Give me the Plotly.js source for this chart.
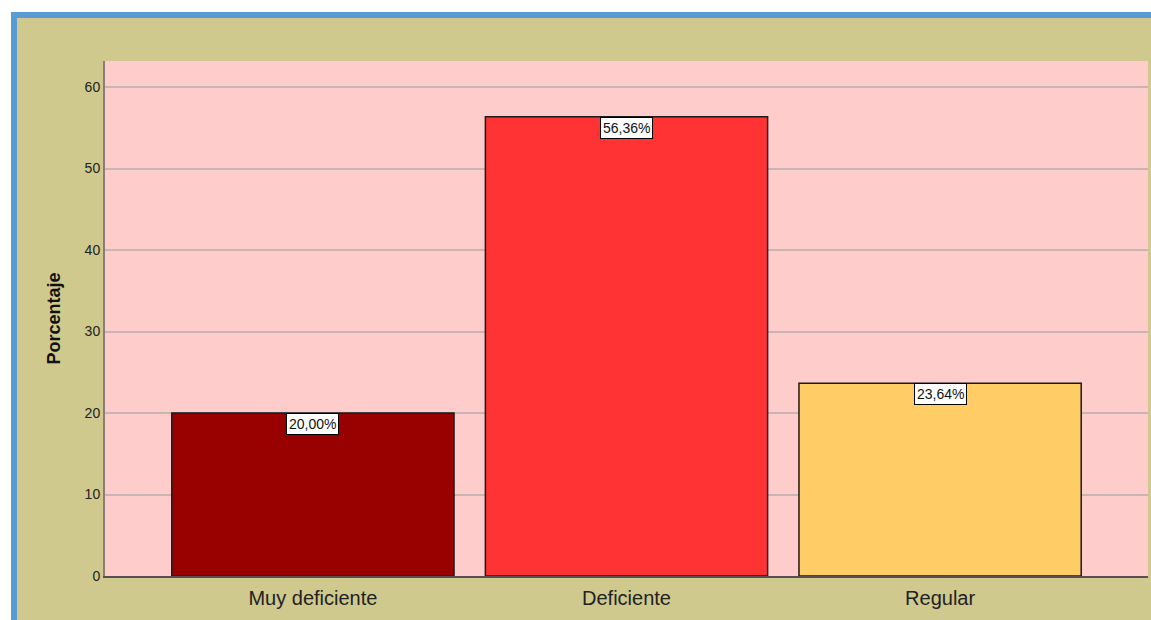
<!DOCTYPE html>
<html>
<head>
<meta charset="utf-8">
<script src="https://cdn.plot.ly/plotly-3.0.1.min.js"></script>
<style>
html,body{margin:0;padding:0;background:#ffffff;overflow:hidden;}
#frame{position:absolute;left:11px;top:12px;width:1140px;height:608px;background:#5b9bd5;}
#chart{position:absolute;left:6px;top:6px;width:1134px;height:602px;}
</style>
</head>
<body>
<div id="frame"><div id="chart"></div></div>
<script>
const categories = ["Muy deficiente", "Deficiente", "Regular"];
const values = [20.00, 56.36, 23.64];
const valueLabels = ["20,00%", "56,36%", "23,64%"];
const barColors = ["#990000", "#ff3333", "#ffcc66"];
const yTicks = [0, 10, 20, 30, 40, 50, 60];

const trace = {
  type: "bar",
  x: categories,
  y: values,
  marker: {color: barColors, line: {color: "#1a1a1a", width: 1.5}},
  hoverinfo: "none"
};

const annotations = categories.map((c, i) => ({
  x: c, y: values[i], xref: "x", yref: "y",
  text: valueLabels[i], showarrow: false,
  yanchor: "top", xanchor: "center",
  bgcolor: "#ffffff", bordercolor: "#000000", borderwidth: 1, borderpad: 2,
  font: {family: "Liberation Sans, Arial, sans-serif", size: 14, color: "#111111"}
}));

const layout = {
  width: 1134, height: 602,
  margin: {l: 88, r: 3, t: 43, b: 44},
  paper_bgcolor: "#cfc98e",
  plot_bgcolor: "#ffcccc",
  bargap: 0.1,
  showlegend: false,
  font: {family: "Liberation Sans, Arial, sans-serif", color: "#222222"},
  xaxis: {
    type: "category",
    range: [-0.663, 2.663],
    showgrid: false, zeroline: false,
    showline: true, linecolor: "#5a5050", linewidth: 2,
    ticks: "", ticklabelstandoff: 3, tickfont: {size: 20, color: "#222222"}
  },
  yaxis: {
    range: [0, 63.2],
    tickvals: yTicks, ticktext: yTicks.map(String),
    showgrid: true, gridcolor: "#c9b4b4", gridwidth: 2,
    zeroline: false,
    showline: true, linecolor: "#8a7d78", linewidth: 2,
    ticks: "", tickfont: {size: 14, color: "#222222"},
    title: {text: "<b>Porcentaje</b>", font: {size: 18, color: "#111111"}, standoff: 19}
  },
  annotations: annotations
};

Plotly.newPlot("chart", [trace], layout, {staticPlot: true, displayModeBar: false});
</script>
</body>
</html>
